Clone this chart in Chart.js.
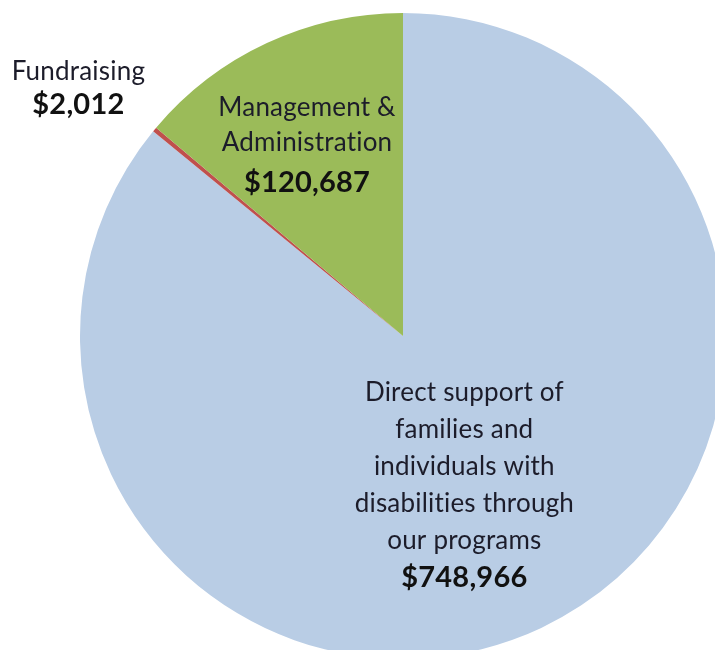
<!DOCTYPE html>
<html>
<head>
<meta charset="utf-8">
<script src="https://cdn.jsdelivr.net/npm/chart.js@4"></script>
<style>
  html, body { margin: 0; padding: 0; background: #fff; overflow: hidden; }
  .wrap { position: absolute; left: 0; top: 0; width: 730px; height: 670px; }
</style>
</head>
<body>
<div class="wrap"><canvas class="my-chart" width="730" height="670"></canvas></div>
<script>
const myChart = document.querySelector(".my-chart");

// data
const categories = [
  "Direct support of families and individuals with disabilities through our programs",
  "Fundraising",
  "Management & Administration",
];
const amounts = [748966, 2012, 120687];
const sliceColors = ["#B9CDE5", "#C0504D", "#9BBB59"];

// label text lines (value line is added from amounts)
const labelLines = [
  ["Direct support of", "families and", "individuals with", "disabilities through", "our programs"],
  ["Fundraising"],
  ["Management &", "Administration"],
];

const money = (v) => "$" + v.toLocaleString("en-US");

// where each label block sits, relative to pie center, in radius units
const labelSpots = [
  { dx: 0.19, dy: 0.176 },
  { dx: -1.005, dy: -0.817 },
  { dx: -0.297, dy: -0.706 },
];

const labelPlugin = {
  id: "sliceLabels",
  afterDatasetsDraw(chart) {
    const ctx = chart.ctx;
    const arc = chart.getDatasetMeta(0).data[0];
    const cx = arc.x, cy = arc.y, r = arc.outerRadius;
    ctx.save();
    ctx.textAlign = "center";
    ctx.textBaseline = "middle";
    ctx.letterSpacing = "0.2px"; // keeps "ti" from turning into a ligature
    labelLines.forEach((lines, i) => {
      const x = cx + labelSpots[i].dx * r;
      let y = cy + labelSpots[i].dy * r;
      const lh = i === 1 ? 33 : (i === 0 ? 37 : 35);
      ctx.fillStyle = "#1c1c2a";
      ctx.font = "26px Lato, 'Open Sans', sans-serif";
      lines.forEach((t) => { ctx.fillText(t, x, y); y += lh; });
      ctx.font = "bold 29px Lato, 'Open Sans', sans-serif";
      ctx.fillStyle = "#111";
      ctx.fillText(money(amounts[i]), x, y + (i === 2 ? 5 : 0));
    });
    ctx.restore();
  },
};

const mychart = new Chart(myChart, {
  type: "pie",
  data: {
    labels: categories,
    datasets: [
      {
        data: amounts,
        backgroundColor: sliceColors,
        borderWidth: 0,
      },
    ],
  },
  options: {
    responsive: false,
    animation: false,
    layout: { padding: { left: 80, right: 4, top: 13, bottom: 11 } },
    plugins: {
      legend: { display: false },
      tooltip: { enabled: false },
    },
  },
  plugins: [labelPlugin],
});
</script>
</body>
</html>
